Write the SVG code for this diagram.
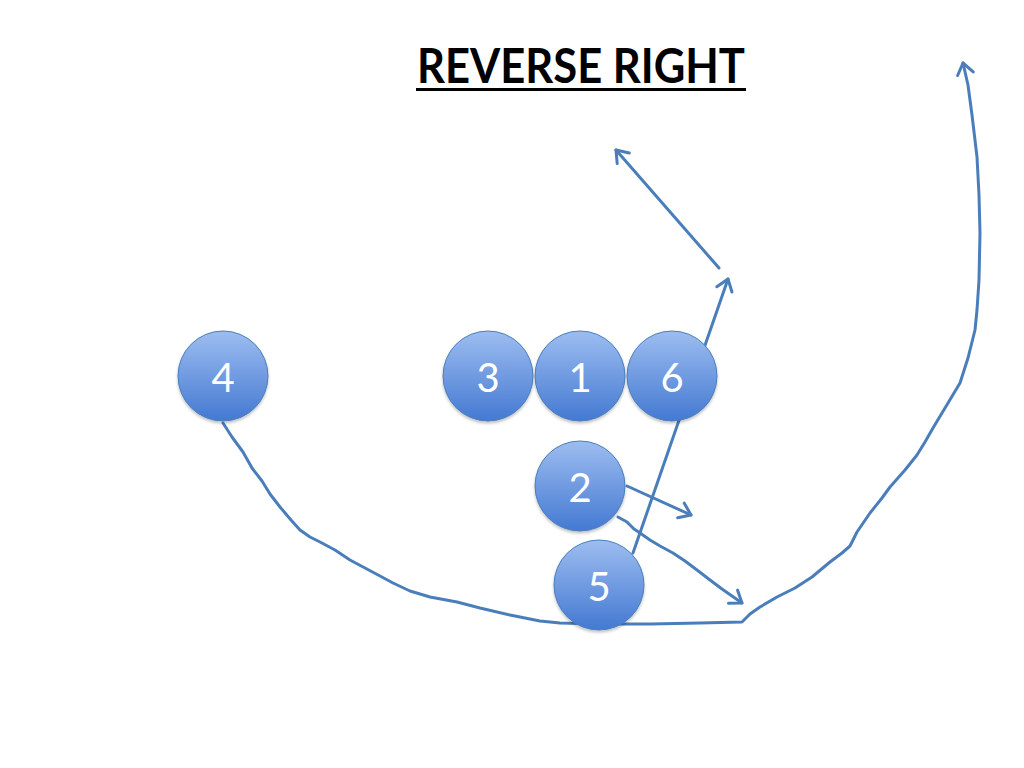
<svg xmlns="http://www.w3.org/2000/svg" width="1024" height="768" viewBox="0 0 1024 768">
<defs>
<linearGradient id="ball" x1="0" y1="0" x2="0" y2="1">
<stop offset="0" stop-color="#9dbdf0"/>
<stop offset="1" stop-color="#4479d2"/>
</linearGradient>
<marker id="arr" markerUnits="userSpaceOnUse" markerWidth="30" markerHeight="30" viewBox="-15 -15 30 30" refX="0" refY="0" orient="auto">
<path d="M-11,-8 L0,0 L-11,8" fill="none" stroke="#4a7ebb" stroke-width="3" stroke-linecap="round" stroke-linejoin="round"/>
</marker>
<filter id="sh" x="-20%" y="-20%" width="140%" height="150%">
<feDropShadow dx="0" dy="2" stdDeviation="1.5" flood-color="#000" flood-opacity="0.25"/>
</filter>
</defs>
<style>
.c{fill:none;stroke:#4a7ebb;stroke-width:3;stroke-linecap:round;stroke-linejoin:round}
.n circle{fill:url(#ball);stroke:#4a7ebb;stroke-width:1;filter:url(#sh)}
.n text{font-family:Lato,"Open Sans","Liberation Sans",sans-serif;font-size:40px;fill:#fff;text-anchor:middle}
.t{font-family:Lato,"Liberation Sans",sans-serif;font-weight:bold;font-size:48px;fill:#000}
</style>
<rect width="1024" height="768" fill="#fff"/>
<g id="title">
<text class="t" x="417" y="83" textLength="328" lengthAdjust="spacingAndGlyphs">REVERSE RIGHT</text>
<rect x="416" y="88" width="330" height="3" fill="#000"/>
</g>
<g id="connectors">
<polyline class="c" marker-end="url(#arr)" points="223,423 232,437 243,452 252,468 262,481 270,494 280,507 291,520 300,530 310,537 320,542 335,550 350,560 365,568 380,576 393,583 410,591 430,597 457,602 480,608 510,615 540,621 560,623 600,624 650,624 700,623 742,622 750,614 760,607 777,597 795,588 812,577 830,562 842,553 850,546 857,532 870,513 882,498 890,487 905,470 917,455 925,442 933,428 945,408 960,383 968,358 975,330 977,310 979,280 980,233 979,195 977,157 972,115 968,85 963,63"/>
<line class="c" marker-end="url(#arr)" x1="633" y1="553" x2="728" y2="279"/>
<line class="c" marker-end="url(#arr)" x1="719" y1="268" x2="616" y2="150"/>
<line class="c" marker-end="url(#arr)" x1="627" y1="486" x2="691" y2="515"/>
<polyline class="c" marker-end="url(#arr)" points="618,517 627,522 634,529 640,533 650,540 660,546 673,553 685,561 697,570 710,580 722,589 732,596 742,603"/>
</g>
<g id="node-4" class="n"><circle cx="223" cy="376" r="45"/><text x="223" y="392">4</text></g>
<g id="node-3" class="n"><circle cx="488" cy="376" r="45"/><text x="488" y="392">3</text></g>
<g id="node-1" class="n"><circle cx="580" cy="376" r="45"/><text x="580" y="392">1</text></g>
<g id="node-6" class="n"><circle cx="672" cy="376" r="45"/><text x="672" y="392">6</text></g>
<g id="node-2" class="n"><circle cx="580" cy="486" r="45"/><text x="580" y="502">2</text></g>
<g id="node-5" class="n"><circle cx="599" cy="585" r="45"/><text x="599" y="601">5</text></g>
</svg>
